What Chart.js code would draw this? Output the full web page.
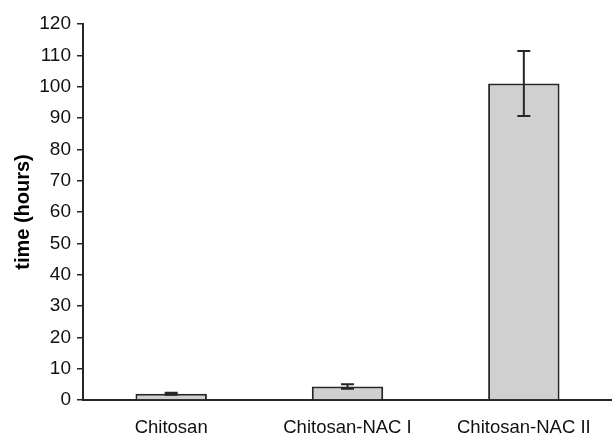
<!DOCTYPE html>
<html lang="en">
<head>
    <meta charset="UTF-8">
    <title>time (hours)</title>
    <script src="https://cdn.jsdelivr.net/npm/chart.js"></script>
    <style>
        html, body { margin: 0; padding: 0; background: #fff; }
        #wrap { width: 612px; height: 436px; }
    </style>
</head>
<body>
    <div id="wrap"><canvas id="timeChart"></canvas></div>

    <script>
        // values
        const categories = ['Chitosan', 'Chitosan-NAC I', 'Chitosan-NAC II'];
        const meanHours = [2.0, 4.3, 101];
        const errHours = [0.3, 0.7, 10.4];
        const yTicks = [0, 10, 20, 30, 40, 50, 60, 70, 80, 90, 100, 110, 120];

        const ink = '#262626';

        // draws the error bars on top of the bars
        const errorBars = {
            id: 'errorBars',
            afterDatasetsDraw(chart) {
                const ctx = chart.ctx;
                const y = chart.scales.y;
                const bars = chart.getDatasetMeta(0).data;
                ctx.save();
                ctx.strokeStyle = ink;
                ctx.lineWidth = 2;
                bars.forEach((bar, i) => {
                    const top = y.getPixelForValue(meanHours[i] + errHours[i]);
                    const bottom = y.getPixelForValue(meanHours[i] - errHours[i]);
                    const half = 6.5;
                    ctx.beginPath();
                    ctx.moveTo(bar.x, top);
                    ctx.lineTo(bar.x, bottom);
                    ctx.moveTo(bar.x - half, top);
                    ctx.lineTo(bar.x + half, top);
                    ctx.moveTo(bar.x - half, bottom);
                    ctx.lineTo(bar.x + half, bottom);
                    ctx.stroke();
                });
                ctx.restore();
            }
        };

        new Chart(document.getElementById('timeChart'), {
            type: 'bar',
            data: {
                labels: categories,
                datasets: [{
                    data: meanHours,
                    backgroundColor: '#d0d0d0',
                    borderColor: ink,
                    borderWidth: 2,
                    borderSkipped: 'bottom',
                    barPercentage: 0.405,
                    categoryPercentage: 1
                }]
            },
            options: {
                responsive: true,
                maintainAspectRatio: false,
                animation: false,
                layout: { padding: { top: 24, left: 0, right: 0, bottom: 0 } },
                plugins: {
                    legend: { display: false },
                    tooltip: { enabled: false }
                },
                scales: {
                    x: {
                        grid: { drawOnChartArea: false, drawTicks: false },
                        border: { display: true, color: ink, width: 2 },
                        ticks: {
                            color: '#111',
                            padding: 17,
                            maxRotation: 0,
                            font: { family: 'Liberation Sans, Arial, sans-serif', size: 18.5 }
                        },
                        afterFit(s) { s.height = 36; }
                    },
                    y: {
                        min: 0,
                        max: 120,
                        afterBuildTicks(s) { s.ticks = yTicks.map(v => ({ value: v })); },
                        grid: { drawOnChartArea: false, drawTicks: true, tickLength: 6, color: ink, lineWidth: 1.5 },
                        border: { display: true, color: ink, width: 2 },
                        ticks: {
                            color: '#111',
                            padding: 6,
                            font: { family: 'Liberation Sans, Arial, sans-serif', size: 19 }
                        },
                        title: {
                            display: true,
                            text: 'time (hours)',
                            color: '#000',
                            padding: { top: 11, bottom: 0 },
                            font: { family: 'Liberation Sans, Arial, sans-serif', size: 20, weight: 'bold' }
                        },
                        afterFit(s) { s.width = 83; }
                    }
                }
            },
            plugins: [errorBars]
        });
    </script>
</body>
</html>
